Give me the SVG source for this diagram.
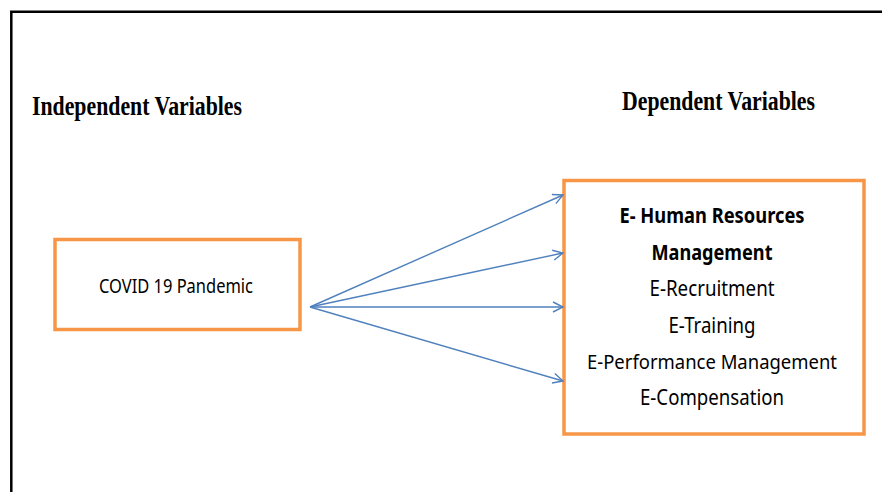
<svg xmlns="http://www.w3.org/2000/svg" width="882" height="492" viewBox="0 0 882 492">
<style>
.frame{fill:none;stroke:#000;stroke-width:2.5}
.box{fill:#fff;stroke:#F79646;stroke-width:3.5}
.head{font-family:"Liberation Serif","Times New Roman",serif;font-weight:bold;font-size:28px;fill:#000}
.lbl{font-family:"Noto Sans","Open Sans",sans-serif;font-size:22px;fill:#000;text-anchor:middle}
.sm{font-size:20px}
.b{font-weight:bold}
.conn line{stroke:#4F81BD;stroke-width:1.4;fill:none}
</style>
<defs>
<marker id="ah" viewBox="0 0 12 12" refX="11" refY="6" markerWidth="12" markerHeight="12" markerUnits="userSpaceOnUse" orient="auto">
<path d="M1,1 L11,6 L1,11" fill="none" stroke="#4F81BD" stroke-width="1.4"/>
</marker>
</defs>
<rect width="882" height="492" fill="#fff"/>
<path class="frame" d="M11.3,492 V11.8 H882"/>
<text class="head" x="32" y="115" textLength="210" lengthAdjust="spacingAndGlyphs">Independent Variables</text>
<text class="head" x="622" y="110" textLength="193" lengthAdjust="spacingAndGlyphs">Dependent Variables</text>
<g id="covid">
<rect class="box" x="55" y="239.5" width="245" height="90"/>
<text class="lbl sm" x="176" y="293" textLength="154" lengthAdjust="spacingAndGlyphs">COVID 19 Pandemic</text>
</g>
<g id="ehrm">
<rect class="box" x="564" y="180.5" width="300" height="253.5"/>
<text class="lbl b" x="712" y="223" textLength="185" lengthAdjust="spacingAndGlyphs">E- Human Resources</text>
<text class="lbl b" x="712" y="260" textLength="121" lengthAdjust="spacingAndGlyphs">Management</text>
<text class="lbl" x="712" y="296" textLength="125" lengthAdjust="spacingAndGlyphs">E-Recruitment</text>
<text class="lbl" x="712" y="333" textLength="87" lengthAdjust="spacingAndGlyphs">E-Training</text>
<text class="lbl sm" x="712" y="369" textLength="250" lengthAdjust="spacingAndGlyphs">E-Performance Management</text>
<text class="lbl" x="712" y="405" textLength="144" lengthAdjust="spacingAndGlyphs">E-Compensation</text>
</g>
<g class="conn" id="connectors">
<line x1="310" y1="307" x2="563" y2="195" marker-end="url(#ah)"/>
<line x1="310" y1="307" x2="563" y2="253" marker-end="url(#ah)"/>
<line x1="310" y1="307" x2="563" y2="307" marker-end="url(#ah)"/>
<line x1="310" y1="307" x2="563" y2="381" marker-end="url(#ah)"/>
</g>
</svg>
